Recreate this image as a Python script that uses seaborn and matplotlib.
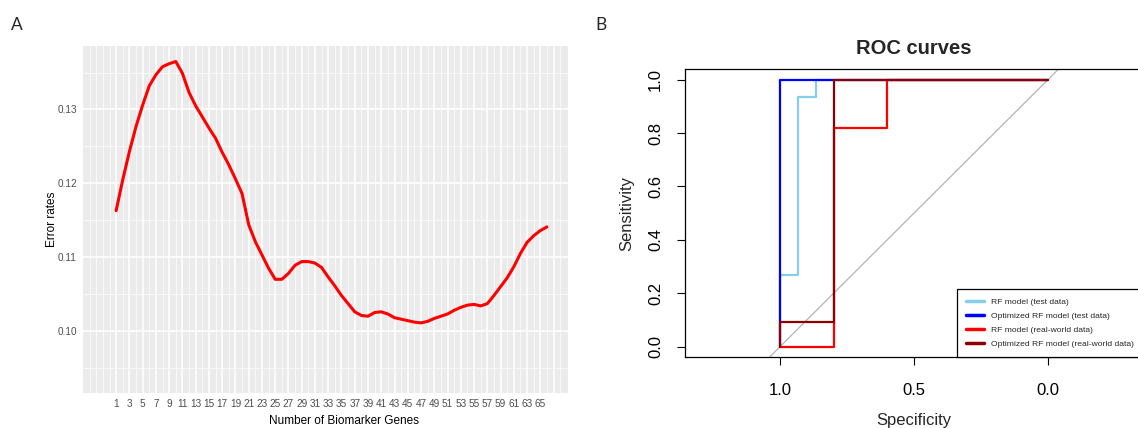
import matplotlib
matplotlib.use("Agg")
import numpy as np
import pandas as pd
import matplotlib.pyplot as plt
import seaborn as sns
from matplotlib.lines import Line2D

# ---- Panel A: cross-validated error rate vs. number of biomarker genes ----
n_genes = list(range(1, 67))
error_rates = [
    0.1163, 0.1205, 0.1243, 0.1277, 0.1306, 0.1332, 0.1347, 0.1358, 0.1362, 0.1365,
    0.1349, 0.1323, 0.1305, 0.1290, 0.1275, 0.1261, 0.1242, 0.1225, 0.1206, 0.1186,
    0.1144, 0.1121, 0.1103, 0.1085, 0.1070, 0.1070, 0.1078, 0.1089, 0.1094, 0.1094,
    0.1092, 0.1086, 0.1073, 0.1061, 0.1048, 0.1037, 0.1026, 0.1021, 0.1020, 0.1025,
    0.1026, 0.1023, 0.1018, 0.1016, 0.1014, 0.1012, 0.1011, 0.1013, 0.1017, 0.1020,
    0.1023, 0.1028, 0.1032, 0.1035, 0.1036, 0.1034, 0.1037, 0.1048, 0.1060, 0.1072,
    0.1087, 0.1105, 0.1120, 0.1129, 0.1136, 0.1141,
]
x_breaks = list(range(1, 68, 2))
x_labels = [str(b) if b <= 65 else "" for b in x_breaks]
y_breaks = [0.10, 0.11, 0.12, 0.13]
y_labels = ["0.10", "0.11", "0.12", "0.13"]

# ---- Panel B: ROC curves (specificity, sensitivity) ----
roc_labels = [
    "RF model (test data)",
    "Optimized RF model (test data)",
    "RF model (real-world data)",
    "Optimized RF model (real-world data)",
]
roc_colors = ["#87CEEB", "#0000FF", "#FF0000", "#8B0000"]
rf_test_spec = [1.0, 1.0, 14/15, 14/15, 13/15, 13/15, 0.0]
rf_test_sens = [0.0, 4/15, 4/15, 14/15, 14/15, 1.0, 1.0]
opt_test_spec = [1.0, 1.0, 0.0]
opt_test_sens = [0.0, 1.0, 1.0]
rf_real_spec = [1.0, 0.8, 0.8, 0.6, 0.6, 0.0]
rf_real_sens = [0.0, 0.0, 9/11, 9/11, 1.0, 1.0]
opt_real_spec = [1.0, 1.0, 0.8, 0.8, 0.0]
opt_real_sens = [0.0, 1/11, 1/11, 1.0, 1.0]
roc_ticks = [0.0, 0.2, 0.4, 0.6, 0.8, 1.0]
spec_ticks = [1.0, 0.5, 0.0]

sns.set_theme(style="white")
plt.rcParams["font.family"] = ["Liberation Sans", "DejaVu Sans"]

W, H = 1138, 428
fig = plt.figure(figsize=(W / 100, H / 100), dpi=100)


def box(l, t, r, b):
    return [l / W, 1 - b / H, (r - l) / W, (b - t) / H]


# ================= Panel A =================
axA = fig.add_axes(box(83, 46, 567.5, 393))
dfA = pd.DataFrame({"genes": n_genes, "error": error_rates})
sns.lineplot(data=dfA, x="genes", y="error", color="#FF0000", lw=2.2, ax=axA)
axA.set_facecolor("#EBEBEB")
axA.set_xlim(-4, 69.1)
axA.set_ylim(0.0916, 0.1386)
axA.set_xticks(x_breaks)
axA.set_xticklabels(x_labels)
axA.set_xticks([v for v in range(-3, 69) if v not in x_breaks], minor=True)
axA.set_yticks(y_breaks)
axA.set_yticklabels(y_labels)
axA.set_yticks([0.095, 0.105, 0.115, 0.125, 0.135], minor=True)
axA.grid(which="major", color="white", lw=1.1)
axA.grid(which="minor", color="white", lw=0.5)
axA.set_axisbelow(True)
for s in axA.spines.values():
    s.set_visible(False)
axA.tick_params(which="major", length=2.5, width=1.0, color="#333333",
                labelsize=7.2, labelcolor="#4D4D4D", pad=2)
axA.tick_params(which="minor", length=0)
axA.set_xlabel("Number of Biomarker Genes", fontsize=8.5, color="black")
axA.set_ylabel("Error rates", fontsize=8.5, color="black")
axA.xaxis.set_label_coords(0.539, -0.063)
axA.yaxis.set_label_coords(-0.052, 0.5)

# ================= Panel B =================
axB = fig.add_axes(box(685, 69, 1143, 357.3))
curves = [
    (rf_test_spec, rf_test_sens),
    (opt_test_spec, opt_test_sens),
    (rf_real_spec, rf_real_sens),
    (opt_real_spec, opt_real_sens),
]
axB.plot([1.1, -0.1], [-0.1, 1.1], color="#B3B3B3", lw=0.9, zorder=1)
for (sp, se), col in zip(curves, roc_colors):
    sns.lineplot(x=sp, y=se, sort=False, estimator=None, color=col, lw=1.6,
                 ax=axB, zorder=2)
axB.set_xlim(1.355, -0.355)
axB.set_ylim(-0.04, 1.04)
axB.set_xticks(spec_ticks)
axB.set_xticklabels(["1.0", "0.5", "0.0"])
axB.set_yticks(roc_ticks)
axB.set_yticklabels(["0.0", "0.2", "0.4", "0.6", "0.8", "1.0"], rotation=90, va="center")
for s in axB.spines.values():
    s.set_visible(True)
    s.set_color("black")
    s.set_linewidth(0.9)
axB.tick_params(direction="out", length=5.8, width=0.8, color="black",
                labelsize=12, labelcolor="black", pad=10, left=True, bottom=True)
axB.tick_params(axis="x", pad=13)
axB.set_xlabel("Specificity", fontsize=12, labelpad=10.5)
axB.set_ylabel("Sensitivity", fontsize=12, labelpad=10)
axB.set_title("ROC curves", fontsize=14.5, fontweight="bold", pad=10.5)

handles = [Line2D([0], [0], color=c, lw=2.5) for c in roc_colors]
leg = axB.legend(handles, roc_labels, loc="lower right", bbox_to_anchor=(1, 0),
                 borderaxespad=0, fontsize=6.1, frameon=True, fancybox=False,
                 handlelength=2.2, handletextpad=0.8, labelspacing=0.72,
                 borderpad=1.05)
leg.get_frame().set_edgecolor("black")
leg.get_frame().set_linewidth(0.9)
leg.get_frame().set_alpha(1)

# panel letters
fig.text(17 / W, 1 - 24.5 / H, "A", fontsize=12.5, ha="center", va="center",
         family=["Lato", "DejaVu Sans"])
fig.text(601 / W, 1 - 24.5 / H, "B", fontsize=12.5, ha="center", va="center",
         family=["Lato", "DejaVu Sans"])

fig.savefig("out.png", dpi=100)
